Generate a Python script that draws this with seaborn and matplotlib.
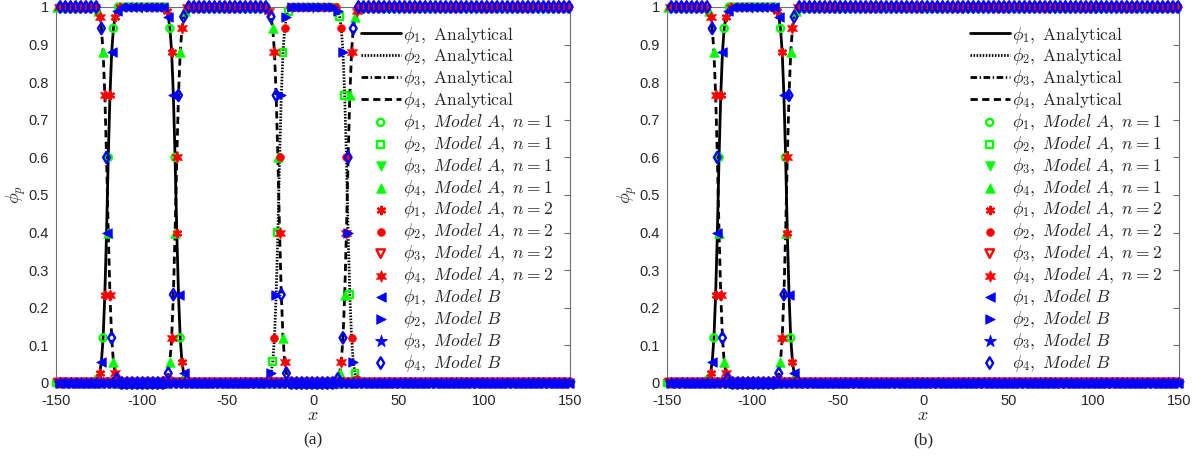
import numpy as np
import matplotlib
matplotlib.use("Agg")
import matplotlib.pyplot as plt
from matplotlib.ticker import FuncFormatter
import seaborn as sns

sns.set_theme(style="white")
plt.rcParams["font.family"] = ["Liberation Sans", "DejaVu Sans"]
plt.rcParams["mathtext.fontset"] = "cm"

# Cell-centred grid of the 1-D domain
x_grid = np.arange(-149.5, 150.0, 1.0)

# Interface profile sampled at half-cell offsets from the interface centre
profile_offsets = np.arange(-5.5, 6.0, 1.0)
profile_rise = [0.011, 0.026, 0.057, 0.12, 0.235, 0.40,
                0.60, 0.765, 0.88, 0.943, 0.974, 0.989]

# Phase filling each region (left to right) and the interface positions
regions_a = [4, 1, 4, 2, 4]
interfaces_a = [-120, -80, -20, 20]
regions_b = [4, 1, 4]
interfaces_b = [-120, -80]

x_ticks = [-150, -100, -50, 0, 50, 100, 150]
y_ticks = [0, 0.1, 0.2, 0.3, 0.4, 0.5, 0.6, 0.7, 0.8, 0.9, 1.0]
panel_tags = ["(a)", "(b)"]

GREEN, RED, BLUE = "#00ff00", "#ff0000", "#0000ff"
ASTERISK = (6, 2, 0)
HEXAGRAM = (6, 1, 0)

# Analytical line styles for phi_1..phi_4
line_styles = ["-", (0, (0.55, 0.55)), (0, (2.4, 0.9, 0.5, 0.9)), (0, (2.6, 1.6))]

# (label text, colour, grid offset, [(marker, filled, size) for phi_1..phi_4])
methods = [
    (r"Model\ A,\ n=1", GREEN, 0,
     [("o", False, 26), ("s", False, 24), ("v", True, 46), ("^", True, 46)]),
    (r"Model\ A,\ n=2", RED, 1,
     [(ASTERISK, None, 28), ("o", True, 30), ("v", False, 38), (HEXAGRAM, True, 68)]),
    (r"Model\ B", BLUE, 2,
     [("<", True, 46), (">", True, 46), ("*", True, 80), ("d", False, 34)]),
]


def phase_fields(regions, interfaces):
    fields = {p: np.zeros_like(x_grid) for p in (1, 2, 3, 4)}
    region_idx = np.searchsorted(interfaces, x_grid)
    for k, p in enumerate(regions):
        fields[p][region_idx == k] = 1.0
    for j, x0 in enumerate(interfaces):
        left, right = regions[j], regions[j + 1]
        for d, r in zip(profile_offsets, profile_rise):
            i = int(np.argmin(np.abs(x_grid - (x0 + d))))
            fields[right][i] = r
            fields[left][i] = 1.0 - r
    return fields


fig = plt.figure(figsize=(12.02, 4.62), dpi=100)
ax_a = fig.add_axes([56 / 1202, 79 / 462, 514 / 1202, 376 / 462])
ax_b = fig.add_axes([667 / 1202, 79 / 462, 512 / 1202, 376 / 462])

spine_col = "#6e6e6e"
idx_all = np.arange(x_grid.size)

for ax, regions, interfaces, tag in zip(
        (ax_a, ax_b), (regions_a, regions_b), (interfaces_a, interfaces_b), panel_tags):
    fields = phase_fields(regions, interfaces)

    for p in (1, 2, 3, 4):
        sns.lineplot(x=x_grid, y=fields[p], ax=ax, color="black", linewidth=2.0,
                     linestyle=line_styles[p - 1],
                     label=rf"$\phi_{p},\ \mathrm{{Analytical}}$", zorder=2)

    for name, col, off, styles in methods:
        sel = idx_all % 3 == off
        for p, (mk, filled, sz) in zip((1, 2, 3, 4), styles):
            kws = dict(x=x_grid[sel], y=fields[p][sel], ax=ax, marker=mk, s=sz,
                       label=rf"$\phi_{p},\ {name}$", zorder=3, clip_on=False)
            if filled is None:
                kws.update(color=col, linewidth=1.7)
            elif filled:
                kws.update(color=col, edgecolor=col, linewidth=0.6)
            else:
                kws.update(color=col, facecolors="none", edgecolor=col, linewidth=1.7)
            sns.scatterplot(**kws)

    ax.set_xlim(-150, 150)
    ax.set_ylim(0, 1)
    ax.set_xticks(x_ticks)
    ax.set_yticks(y_ticks)
    ax.yaxis.set_major_formatter(FuncFormatter(lambda v, _: f"{v:g}"))
    ax.xaxis.set_major_formatter(FuncFormatter(lambda v, _: f"{v:g}"))
    ax.tick_params(direction="in", length=4, width=0.8, color=spine_col,
                   top=True, right=True, labelsize=10.5, labelcolor="#262626")
    ax.tick_params(axis="x", pad=8)
    ax.tick_params(axis="y", pad=5)
    for sp in ax.spines.values():
        sp.set_visible(True)
        sp.set_color(spine_col)
        sp.set_linewidth(0.8)
    ax.set_xlabel(r"$x$", fontsize=13)
    ax.set_ylabel(r"$\phi_p$", fontsize=13)
    ax.xaxis.set_label_coords(0.5, -0.064)
    ax.yaxis.set_label_coords(-0.055, 0.5)
    ax.grid(False)

    ax.legend(loc="upper right", frameon=False, fontsize=12.6, handlelength=2.3,
              handletextpad=0.1, labelspacing=0.05, borderaxespad=0.6,
              borderpad=0.4, scatterpoints=1)

    pos = ax.get_position()
    fig.text(pos.x0 + pos.width / 2, 1 - 440 / 462, tag, ha="center", va="center",
             fontsize=12.5, family=["Liberation Serif", "DejaVu Serif"])

fig.savefig("out.png", dpi=100)
